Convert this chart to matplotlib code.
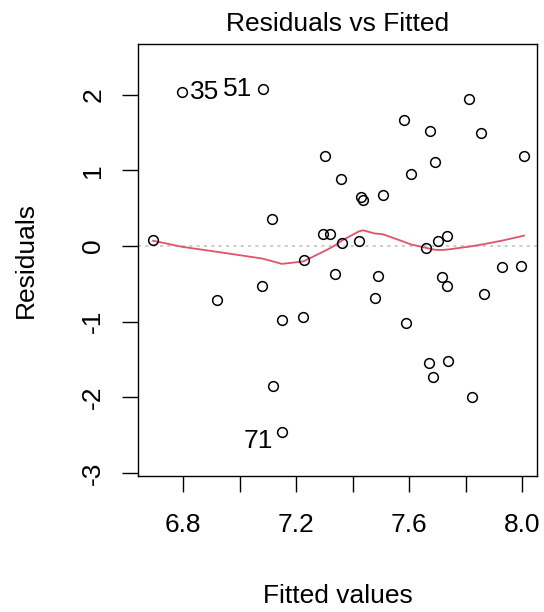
import numpy as np
import matplotlib
matplotlib.use("Agg")
import matplotlib.pyplot as plt

plt.rcParams['font.family'] = ['Liberation Sans', 'DejaVu Sans']

# ---- data ----
fitted = [6.694, 6.796, 7.083, 7.303, 7.359, 7.115, 7.296, 7.320, 7.430, 7.437,
          7.508, 7.363, 7.423, 7.582, 7.674, 7.607, 7.692, 7.812, 7.855, 8.007,
          7.660, 7.703, 7.735, 7.228, 7.338, 7.490, 7.717, 7.735, 7.929, 7.996,
          6.920, 7.080, 7.150, 7.225, 7.480, 7.865, 7.589, 7.119, 7.150, 7.671,
          7.738, 7.685, 7.823]
residuals = [0.08, 2.04, 2.08, 1.19, 0.89, 0.36, 0.16, 0.16, 0.65, 0.61,
             0.67, 0.04, 0.07, 1.67, 1.52, 0.95, 1.11, 1.94, 1.49, 1.19,
             -0.03, 0.07, 0.13, -0.19, -0.37, -0.40, -0.41, -0.53, -0.28, -0.26,
             -0.71, -0.53, -0.98, -0.94, -0.69, -0.63, -1.02, -1.85, -2.46, -1.55,
             -1.52, -1.73, -2.00]
point_ids = ["35", "51", "71"]
id_index = [1, 2, 38]
x_ticks = [6.8, 7.0, 7.2, 7.4, 7.6, 7.8, 8.0]
x_ticklabels = ["6.8", "", "7.2", "", "7.6", "", "8.0"]
y_ticks = [-3, -2, -1, 0, 1, 2]
y_ticklabels = ["-3", "-2", "-1", "0", "1", "2"]


def lowess(x, y, f=2/3, iters=3):
    x = np.asarray(x, float); y = np.asarray(y, float)
    order = np.argsort(x, kind="stable")
    xs, ys = x[order], y[order]
    n = len(xs)
    ns = max(2, min(n, int(f * n + 1e-7)))
    rw = np.ones(n)
    fit = np.zeros(n)
    rng = xs[-1] - xs[0]
    for it in range(iters + 1):
        nleft, nright = 0, ns - 1
        for i in range(n):
            while nright < n - 1 and xs[i] - xs[nleft] > xs[nright + 1] - xs[i]:
                nleft += 1
                nright += 1
            h = max(xs[i] - xs[nleft], xs[nright] - xs[i])
            h9, h1 = 0.999 * h, 0.001 * h
            d = np.abs(xs - xs[i])
            w = np.zeros(n)
            idx = np.arange(n) >= nleft
            m = idx & (d <= h9)
            with np.errstate(divide="ignore", invalid="ignore"):
                w[m] = np.where(d[m] <= h1, 1.0, (1 - (d[m] / h) ** 3) ** 3)
            w *= rw
            sw = w.sum()
            if sw <= 0:
                fit[i] = ys[i]
                continue
            w = w / sw
            if h > 0:
                a = np.sum(w * xs)
                b = xs[i] - a
                c = np.sum(w * (xs - a) ** 2)
                if np.sqrt(c) > 0.001 * rng:
                    b /= c
                    w = w * (b * (xs - a) + 1.0)
            fit[i] = np.sum(w * ys)
        if it == iters:
            break
        res = ys - fit
        cmad = 6 * np.median(np.abs(res))
        if cmad < 1e-7 * np.mean(np.abs(ys)):
            break
        r = np.abs(res)
        rw = np.where(r <= 0.001 * cmad, 1.0,
                      np.where(r > 0.999 * cmad, 0.0, (1 - (r / cmad) ** 2) ** 2))
    return xs, fit


W, H = 544, 612
fig = plt.figure(figsize=(W / 100, H / 100), dpi=100)
L, R, T, B = 138, 537, 44, 476
ax = fig.add_axes([L / W, 1 - B / H, (R - L) / W, (B - T) / H])

FS = 19
ax.axhline(0, color="#BEBEBE", lw=1.1, linestyle=(0, (2.0, 2.8)), zorder=1)
ax.plot(fitted, residuals, linestyle="none", marker="o", ms=7, mfc="none",
        mec="black", mew=1.1, zorder=3)
lx, ly = lowess(fitted, residuals)
ax.plot(lx, ly, color="#DF536B", lw=1.3, zorder=2)

# point labels
offsets = {"35": (6, 0, "left", "center"), "51": (-8, 0, "right", "center"),
           "71": (-6.5, -6.5, "right", "center")}
for lab, k in zip(point_ids, id_index):
    dx, dy, ha, va = offsets[lab]
    ax.annotate(lab, (fitted[k], residuals[k]), xytext=(dx, dy),
                textcoords="offset points", ha=ha, va=va, fontsize=FS)

ax.set_xlim(6.6407, 8.053)
ax.set_ylim(-3.042, 2.672)
ax.set_xticks(x_ticks)
ax.set_xticklabels(x_ticklabels)
ax.set_yticks(y_ticks)
ax.set_yticklabels(y_ticklabels, rotation=90, va="center")
ax.tick_params(axis="both", direction="out", length=11.5, width=1.0,
               labelsize=FS, colors="black")
ax.tick_params(axis="x", pad=15.5)
ax.tick_params(axis="y", pad=12)
for s in ax.spines.values():
    s.set_linewidth(1.0)
    s.set_color("black")

fig.text(337.5 / W, 1 - 31 / H, "Residuals vs Fitted", ha="center",
         va="baseline", fontsize=FS)
fig.text(337.5 / W, 1 - 603 / H, "Fitted values", ha="center",
         va="baseline", fontsize=FS)
fig.text(33 / W, 1 - 260 / H, "Residuals", ha="center", va="baseline",
         rotation=90, rotation_mode="anchor", fontsize=FS)

fig.savefig("out.png", dpi=100)
